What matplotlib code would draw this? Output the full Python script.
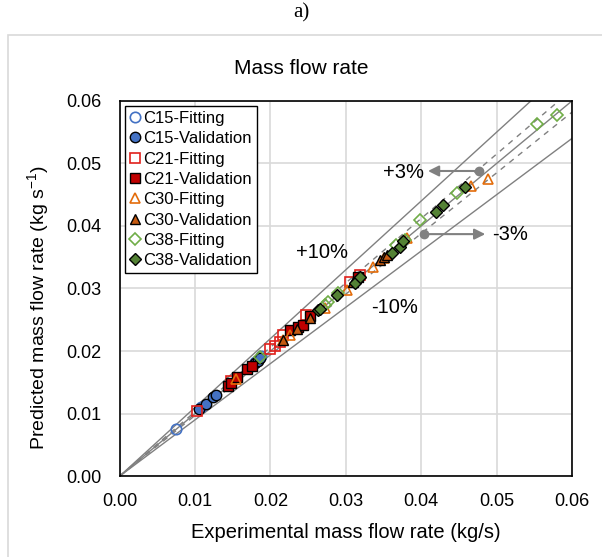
import numpy as np
import matplotlib
matplotlib.use('Agg')
import matplotlib.pyplot as plt
from matplotlib.patches import Rectangle

plt.rcParams['font.family'] = ['Liberation Sans', 'DejaVu Sans']
plt.rcParams['mathtext.fontset'] = 'custom'
plt.rcParams['mathtext.rm'] = 'Liberation Sans'

# Experimental (x) and predicted (y) mass flow rates, kg/s
c15_fit_x = [0.0075, 0.0108, 0.0180, 0.0188]
c15_fit_y = [0.0076, 0.0110, 0.0183, 0.0192]
c15_val_x = [0.0105, 0.0115, 0.0124, 0.0128, 0.0179, 0.0183, 0.0186]
c15_val_y = [0.0107, 0.0116, 0.0126, 0.0130, 0.0181, 0.0184, 0.0189]

c21_fit_x = [0.0103, 0.0148, 0.0199, 0.0206, 0.0212, 0.0217, 0.0247, 0.0305, 0.0319]
c21_fit_y = [0.0104, 0.0152, 0.0204, 0.0208, 0.0215, 0.0226, 0.0257, 0.0311, 0.0322]
c21_val_x = [0.0144, 0.0148, 0.0155, 0.0169, 0.0175, 0.0226, 0.0236, 0.0243, 0.0252, 0.0316]
c21_val_y = [0.0144, 0.0149, 0.0158, 0.0171, 0.0176, 0.0234, 0.0239, 0.0242, 0.0256, 0.0319]

c30_fit_x = [0.0154, 0.0217, 0.0226, 0.0272, 0.0301, 0.0336, 0.0350, 0.0381, 0.0466, 0.0488]
c30_fit_y = [0.0155, 0.0218, 0.0225, 0.0268, 0.0298, 0.0335, 0.0348, 0.0380, 0.0464, 0.0475]
c30_val_x = [0.0217, 0.0235, 0.0252, 0.0310, 0.0345, 0.0350, 0.0354]
c30_val_y = [0.0218, 0.0235, 0.0253, 0.0311, 0.0346, 0.0351, 0.0354]

c38_fit_x = [0.0186, 0.0272, 0.0276, 0.0290, 0.0367, 0.0378, 0.0398, 0.0447, 0.0554, 0.0580]
c38_fit_y = [0.0190, 0.0274, 0.0279, 0.0293, 0.0370, 0.0378, 0.0410, 0.0452, 0.0563, 0.0578]
c38_val_x = [0.0263, 0.0266, 0.0288, 0.0312, 0.0319, 0.0361, 0.0372, 0.0376, 0.0420, 0.0429, 0.0458]
c38_val_y = [0.0266, 0.0267, 0.0290, 0.0308, 0.0319, 0.0356, 0.0367, 0.0376, 0.0423, 0.0434, 0.0462]

ticks = [0.00, 0.01, 0.02, 0.03, 0.04, 0.05, 0.06]

fig = plt.figure(figsize=(6.02, 5.57), dpi=100)
ax = fig.add_axes([0.199, 0.1454, 0.751, 0.6733])

# chart area border and panel label
fig.patches.append(Rectangle((8 / 602, -0.05), 1.2, 0.05 + 1 - 35 / 557, transform=fig.transFigure,
                             fill=False, edgecolor='#D9D9D9', linewidth=1.2))
fig.text(0.5, 1 - 13 / 557, 'a)', ha='center', va='center', fontsize=15, family='Liberation Serif')
fig.text(0.5, 1 - 68 / 557, 'Mass flow rate', ha='center', va='center', fontsize=15)

# reference lines
xl = np.array([0, 0.07])
gray = '#808080'
ax.plot(xl, xl, color=gray, lw=1.0, zorder=2)
ax.plot(xl, 1.10 * xl, color=gray, lw=1.0, zorder=2)
ax.plot(xl, 0.90 * xl, color=gray, lw=1.0, zorder=2)
ax.plot(xl, 1.03 * xl, color=gray, lw=1.0, ls=(0, (4, 4)), zorder=2)
ax.plot(xl, 0.97 * xl, color=gray, lw=1.0, ls=(0, (4, 4)), zorder=2)

ms = 7.5
ax.plot(c15_fit_x, c15_fit_y, 'o', ms=ms, mfc='none', mec='#4472C4', mew=1.2, ls='none', label='C15-Fitting', zorder=3)
ax.plot(c15_val_x, c15_val_y, 'o', ms=ms, mfc='#4472C4', mec='black', mew=1.0, ls='none', label='C15-Validation', zorder=3)
ax.plot(c21_fit_x, c21_fit_y, 's', ms=ms, mfc='none', mec='#E0201B', mew=1.2, ls='none', label='C21-Fitting', zorder=3)
ax.plot(c21_val_x, c21_val_y, 's', ms=ms, mfc='#C00000', mec='black', mew=1.0, ls='none', label='C21-Validation', zorder=3)
ax.plot(c30_fit_x, c30_fit_y, '^', ms=ms, mfc='none', mec='#E36C0A', mew=1.2, ls='none', label='C30-Fitting', zorder=3)
ax.plot(c30_val_x, c30_val_y, '^', ms=ms, mfc='#C55A11', mec='black', mew=1.0, ls='none', label='C30-Validation', zorder=3)
ax.plot(c38_fit_x, c38_fit_y, 'D', ms=6.5, mfc='none', mec='#70AD47', mew=1.2, ls='none', label='C38-Fitting', zorder=3)
ax.plot(c38_val_x, c38_val_y, 'D', ms=6.5, mfc='#548235', mec='black', mew=1.0, ls='none', label='C38-Validation', zorder=3)

# error band labels
ax.text(0.0269, 0.0358, '+10%', fontsize=14.5, ha='center', va='center')
ax.text(0.0365, 0.0269, '-10%', fontsize=14.5, ha='center', va='center')
ax.text(0.0376, 0.0485, '+3%', fontsize=14.5, ha='center', va='center')
ax.text(0.0518, 0.0386, '-3%', fontsize=14.5, ha='center', va='center')
ax.annotate('', xy=(0.0409, 0.0488), xytext=(0.0477, 0.0488),
            arrowprops=dict(arrowstyle='-|>', color=gray, lw=1.5, mutation_scale=16, shrinkA=0, shrinkB=0))
ax.plot([0.0477], [0.0488], 'o', color=gray, ms=6, zorder=4)
ax.annotate('', xy=(0.0485, 0.0387), xytext=(0.0404, 0.0387),
            arrowprops=dict(arrowstyle='-|>', color=gray, lw=1.5, mutation_scale=16, shrinkA=0, shrinkB=0))
ax.plot([0.0404], [0.0387], 'o', color=gray, ms=6, zorder=4)

ax.set_xlim(0, 0.06)
ax.set_ylim(0, 0.06)
ax.set_xticks(ticks)
ax.set_yticks(ticks)
ax.set_xticklabels([f'{t:.2f}' for t in ticks])
ax.set_yticklabels([f'{t:.2f}' for t in ticks])
ax.tick_params(length=0, labelsize=13)
ax.tick_params(axis='x', pad=12)
ax.tick_params(axis='y', pad=13)
ax.grid(True, color='#D9D9D9', lw=1.2, zorder=0)
ax.set_axisbelow(True)
for s in ax.spines.values():
    s.set_color('black')
    s.set_linewidth(1.2)

ax.set_xlabel('Experimental mass flow rate (kg/s)', fontsize=14.5)
ax.set_ylabel(r'Predicted mass flow rate (kg s$^{\mathregular{-1}}$)', fontsize=14)
ax.xaxis.set_label_coords(0.5, -0.125)
ax.yaxis.set_label_coords(-0.15, 0.45)

leg = ax.legend(loc='upper left', fontsize=12, frameon=True, fancybox=False, framealpha=1,
                edgecolor='black', handlelength=0.6, handletextpad=0.2, labelspacing=0.32,
                borderpad=0.3, borderaxespad=0.3)
leg.get_frame().set_linewidth(1.0)

fig.savefig('out.png', dpi=100)
